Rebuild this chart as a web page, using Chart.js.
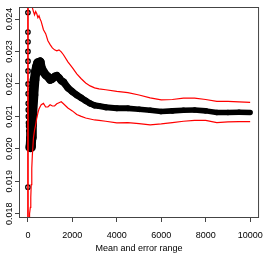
<!DOCTYPE html>
<html>
<head>
<meta charset="utf-8">
<script src="https://cdn.jsdelivr.net/npm/chart.js@4.4.1/dist/chart.umd.min.js"></script>
<style>
  html, body { margin: 0; padding: 0; background: #fff; }
  #wrap { width: 271px; height: 255px; }
</style>
</head>
<body>
<div id="wrap"><canvas id="meanChart" width="271" height="255"></canvas></div>
<script>
// running mean of the sample, with its error range
const sampleSizes = [1, 2, 3, 4, 5, 6, 8, 10, 12, 15, 18, 22, 27, 33, 40, 50, 60, 75, 90, 110,
    130, 150, 175, 200, 250, 300, 350, 400, 450, 500, 550, 600, 700, 800, 900, 1000, 1100, 1200, 1300, 1400,
    1500, 1600, 1800, 2000, 2200, 2400, 2600, 2800, 3000, 3200, 3500, 4000, 4500, 5000, 5500, 6000, 6500, 7000, 7500, 8000,
    8500, 9000, 9500, 10000];

const meanValues = [0.01882, 0.02420, 0.02360, 0.02300, 0.02330, 0.02270, 0.02240, 0.02200, 0.02170, 0.02140,
    0.02120, 0.02100, 0.02080, 0.02070, 0.02055, 0.02045, 0.02035, 0.02025, 0.02015, 0.02005,
    0.02010, 0.02035, 0.02074, 0.02114, 0.02166, 0.02213, 0.02237, 0.02253, 0.02265, 0.02262,
    0.02268, 0.02250, 0.02237, 0.02228, 0.02222, 0.02213, 0.02216, 0.02222, 0.02225, 0.02219,
    0.02210, 0.02206, 0.02188, 0.02176, 0.02166, 0.02157, 0.02148, 0.02140, 0.02134, 0.02132,
    0.02128, 0.02125, 0.02125, 0.02122, 0.02119, 0.02115, 0.02117, 0.02119, 0.02120, 0.02117,
    0.02112, 0.02112, 0.02113, 0.02112];

const upperValues = [0.0400, 0.0150, 0.0300, 0.0285, 0.0283, 0.0285, 0.0280, 0.0275, 0.0270, 0.0265,
    0.0264, 0.0260, 0.0258, 0.0257, 0.0256, 0.0255, 0.0255, 0.0254, 0.0253, 0.0252,
    0.0250, 0.0249, 0.0246, 0.02435, 0.02423, 0.02413, 0.02423, 0.02416, 0.02404, 0.02410,
    0.02400, 0.02392, 0.02367, 0.02355, 0.02333, 0.02321, 0.02311, 0.02305, 0.02302, 0.02305,
    0.02299, 0.02290, 0.02268, 0.02250, 0.02231, 0.02216, 0.02203, 0.02194, 0.02188, 0.02185,
    0.02182, 0.02177, 0.02173, 0.02166, 0.02157, 0.02151, 0.02152, 0.02156, 0.02156, 0.02152,
    0.02146, 0.02146, 0.02145, 0.02143];

const lowerValues = [0.0020, 0.0250, 0.0120, 0.0135, 0.0140, 0.0145, 0.0150, 0.0155, 0.0158, 0.0162,
    0.0165, 0.0168, 0.0171, 0.0173, 0.0175, 0.0177, 0.0178, 0.0179, 0.0180, 0.0182,
    0.0185, 0.0189, 0.0194, 0.0198, 0.02034, 0.02058, 0.02074, 0.02095, 0.02110, 0.02123,
    0.02130, 0.02136, 0.02140, 0.02129, 0.02129, 0.02136, 0.02132, 0.02132, 0.02139, 0.02142,
    0.02145, 0.02139, 0.02126, 0.02117, 0.02106, 0.02100, 0.02095, 0.02092, 0.02089, 0.02088,
    0.02085, 0.02080, 0.02081, 0.02078, 0.02074, 0.02077, 0.02081, 0.02085, 0.02088, 0.02088,
    0.02081, 0.02083, 0.02084, 0.02084];

const xTicks = [0, 2000, 4000, 6000, 8000, 10000];
const xTickLabels = ['0', '2000', '4000', '6000', '8000', '10000'];
const yTicks = [0.018, 0.019, 0.020, 0.021, 0.022, 0.023, 0.024];
const yTickLabels = ['0.018', '0.019', '0.020', '0.021', '0.022', '0.023', '0.024'];

function toPoints(vals) {
    return sampleSizes.map((n, i) => ({ x: n, y: vals[i] }));
}

Chart.defaults.font.family = '"Liberation Sans", Arial, sans-serif';
Chart.defaults.color = '#000';

// box round the plot like R's default
const frame = {
    id: 'frame',
    afterDraw(chart) {
        const { ctx, chartArea: a } = chart;
        ctx.save();
        ctx.strokeStyle = '#444';
        ctx.lineWidth = 1;
        ctx.strokeRect(a.left + 0.5, a.top + 0.5, a.right - a.left - 1, a.bottom - a.top - 1);
        ctx.restore();
    }
};

new Chart(document.getElementById('meanChart'), {
    type: 'scatter',
    data: {
        datasets: [
            {
                label: 'upper',
                data: toPoints(upperValues),
                showLine: true,
                borderColor: '#ff0000',
                borderWidth: 1.2,
                pointRadius: 0,
                clip: 0
            },
            {
                label: 'lower',
                data: toPoints(lowerValues),
                showLine: true,
                borderColor: '#ff0000',
                borderWidth: 1.2,
                pointRadius: 0,
                clip: 0
            },
            {
                label: 'mean',
                data: toPoints(meanValues),
                showLine: true,
                borderColor: '#000',
                borderWidth: 6,
                borderJoinStyle: 'round',
                borderCapStyle: 'round',
                pointRadius: ctx => ctx.dataIndex < 22 ? 2.2 : 0,
                pointBorderWidth: 1.3,
                pointBorderColor: '#000',
                pointBackgroundColor: 'rgba(0,0,0,0)',
                segment: {
                    borderWidth: ctx => 5.5 + 5 * Math.exp(-ctx.p0.parsed.x / 1500),
                    borderColor: ctx => ctx.p0DataIndex < 19 ? 'rgba(0,0,0,0)' : '#000'
                },
                clip: 0
            }
        ]
    },
    options: {
        responsive: false,
        animation: false,
        devicePixelRatio: 1,
        layout: { padding: { left: 0, right: 9, top: 7, bottom: 0 } },
        plugins: { legend: { display: false }, tooltip: { enabled: false } },
        scales: {
            x: {
                type: 'linear',
                min: -400,
                max: 10400,
                afterBuildTicks: s => { s.ticks = xTicks.map(v => ({ value: v })); },
                afterFit: s => { s.height = 37; },
                border: { display: false },
                grid: { drawOnChartArea: false, tickLength: 4, color: '#444' },
                ticks: {
                    font: { size: 9 },
                    padding: 8,
                    maxRotation: 0,
                    autoSkip: false,
                    callback: (v, i) => xTickLabels[i]
                },
                title: { display: true, text: 'Mean and error range', font: { size: 9 }, padding: { top: 0, bottom: 1 } }
            },
            y: {
                type: 'linear',
                min: 0.01787,
                max: 0.02437,
                afterBuildTicks: s => { s.ticks = yTicks.map(v => ({ value: v })); },
                afterFit: s => { s.width = 19; },
                border: { display: false },
                grid: { drawOnChartArea: false, tickLength: 4, color: '#444' },
                ticks: {
                    font: { size: 9 },
                    autoSkip: false,
                    minRotation: 90,
                    maxRotation: 90,
                    crossAlign: 'center',
                    padding: -6,
                    callback: (v, i) => yTickLabels[i]
                }
            }
        }
    },
    plugins: [frame]
});
</script>
</body>
</html>
